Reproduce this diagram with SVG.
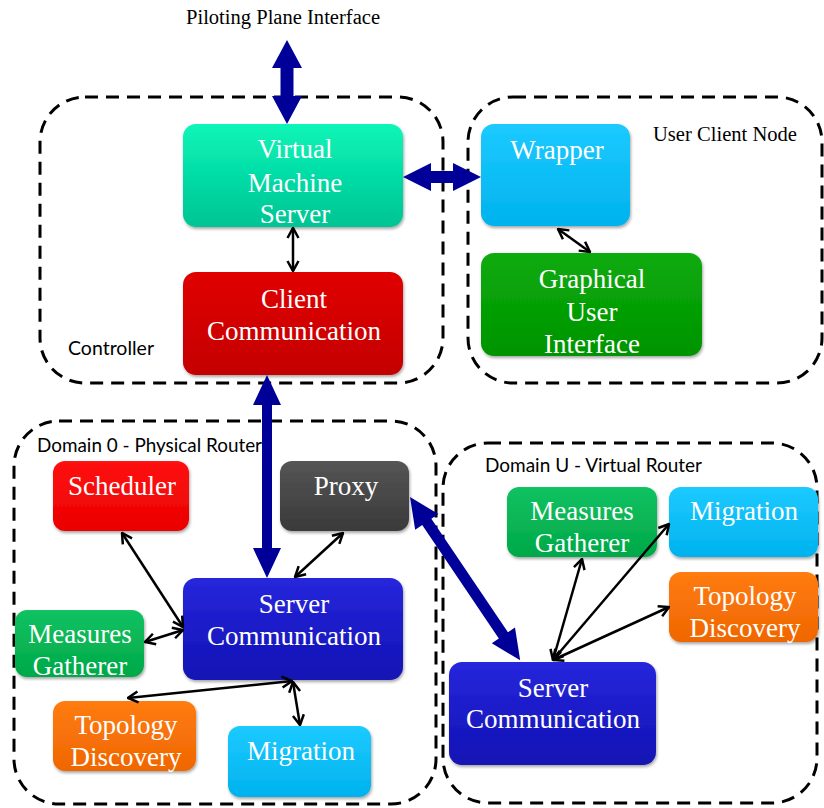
<svg xmlns="http://www.w3.org/2000/svg" width="824" height="808" viewBox="0 0 824 808">
  <defs>
    <style>
      .zone { fill: none; stroke: #000; stroke-width: 3; stroke-dasharray: 13 8; }
      .zlabel { font-family: "Lato", "Liberation Sans", sans-serif; font-size: 19px; fill: #000; }
      .slabel { font-family: "Liberation Serif", "Times New Roman", serif; font-size: 20px; fill: #000; }
      .box { filter: url(#shadow); }
      .nt { font-family: "Liberation Serif", "Times New Roman", serif; font-size: 27px; fill: #fff; text-anchor: middle; }
      .link { fill: none; stroke: #000; stroke-width: 2.5; marker-start: url(#head); marker-end: url(#head); }
      .pipe { fill: #000099; }
    </style>
    <filter id="shadow" x="-10%" y="-10%" width="120%" height="130%">
      <feDropShadow dx="1" dy="2" stdDeviation="1.8" flood-color="#000" flood-opacity="0.35"/>
    </filter>
    <marker id="head" viewBox="-1 -7 13 14" refX="11" refY="0" markerWidth="13" markerHeight="14" markerUnits="userSpaceOnUse" orient="auto-start-reverse">
      <path d="M1,-5.5 L11,0 L1,5.5" fill="none" stroke="#000" stroke-width="2.5" stroke-linejoin="miter"/>
    </marker>
    <linearGradient id="gTeal" x1="0" y1="0" x2="0" y2="1"><stop offset="0" stop-color="#0af5b8"/><stop offset="1" stop-color="#00c493"/></linearGradient>
    <linearGradient id="gDarkRed" x1="0" y1="0" x2="0" y2="1"><stop offset="0" stop-color="#e00606"/><stop offset="1" stop-color="#c40000"/></linearGradient>
    <linearGradient id="gSky" x1="0" y1="0" x2="0" y2="1"><stop offset="0" stop-color="#1ccaff"/><stop offset="1" stop-color="#00b2ee"/></linearGradient>
    <linearGradient id="gGreen" x1="0" y1="0" x2="0" y2="1"><stop offset="0" stop-color="#0cab0c"/><stop offset="1" stop-color="#009400"/></linearGradient>
    <linearGradient id="gRed" x1="0" y1="0" x2="0" y2="1"><stop offset="0" stop-color="#ff1212"/><stop offset="1" stop-color="#ea0000"/></linearGradient>
    <linearGradient id="gGray" x1="0" y1="0" x2="0" y2="1"><stop offset="0" stop-color="#555"/><stop offset="1" stop-color="#3a3a3a"/></linearGradient>
    <linearGradient id="gBlue" x1="0" y1="0" x2="0" y2="1"><stop offset="0" stop-color="#2626dc"/><stop offset="1" stop-color="#1212b4"/></linearGradient>
    <linearGradient id="gMint" x1="0" y1="0" x2="0" y2="1"><stop offset="0" stop-color="#12c262"/><stop offset="1" stop-color="#00a847"/></linearGradient>
    <linearGradient id="gOrange" x1="0" y1="0" x2="0" y2="1"><stop offset="0" stop-color="#ff7c12"/><stop offset="1" stop-color="#ef6600"/></linearGradient>
  </defs>

  <rect width="824" height="808" fill="#fff"/>

  <!-- dashed grouping zones -->
  <g id="zones">
    <rect class="zone" x="40" y="97" width="403" height="286" rx="45"/>
    <rect class="zone" x="468" y="97" width="354" height="286" rx="45"/>
    <rect class="zone" x="14" y="421" width="422" height="383" rx="45"/>
    <rect class="zone" x="443" y="443" width="374" height="360" rx="45"/>
    <text class="slabel" x="283" y="24" text-anchor="middle" textLength="194" lengthAdjust="spacingAndGlyphs">Piloting Plane Interface</text>
    <text class="slabel" x="653" y="141" textLength="144" lengthAdjust="spacingAndGlyphs">User Client Node</text>
    <text class="zlabel" x="68" y="355" textLength="86" lengthAdjust="spacingAndGlyphs">Controller</text>
    <text class="zlabel" x="37" y="452" textLength="225" lengthAdjust="spacingAndGlyphs">Domain 0 - Physical Router</text>
    <text class="zlabel" x="485" y="472" textLength="217" lengthAdjust="spacingAndGlyphs">Domain U - Virtual Router</text>
  </g>

  <!-- controller -->
  <g id="vm-server">
    <rect class="box" x="183" y="124" width="220" height="103" rx="13" fill="url(#gTeal)"/>
    <text class="nt" x="295" y="158">Virtual</text>
    <text class="nt" x="295" y="192">Machine</text>
    <text class="nt" x="295" y="223">Server</text>
  </g>
  <g id="client-communication">
    <rect class="box" x="183" y="272" width="220" height="103" rx="13" fill="url(#gDarkRed)"/>
    <text class="nt" x="294" y="308">Client</text>
    <text class="nt" x="294" y="340">Communication</text>
  </g>

  <!-- user client node -->
  <g id="wrapper">
    <rect class="box" x="481" y="124" width="149" height="102" rx="13" fill="url(#gSky)"/>
    <text class="nt" x="557" y="159">Wrapper</text>
  </g>
  <g id="gui">
    <rect class="box" x="481" y="253" width="221" height="103" rx="13" fill="url(#gGreen)"/>
    <text class="nt" x="592" y="288">Graphical</text>
    <text class="nt" x="592" y="321">User</text>
    <text class="nt" x="592" y="353">Interface</text>
  </g>

  <!-- domain 0 -->
  <g id="d0-scheduler">
    <rect class="box" x="53" y="461" width="136" height="70" rx="12" fill="url(#gRed)"/>
    <text class="nt" x="122" y="495">Scheduler</text>
  </g>
  <g id="d0-proxy">
    <rect class="box" x="280" y="461" width="129" height="70" rx="12" fill="url(#gGray)"/>
    <text class="nt" x="346" y="495">Proxy</text>
  </g>
  <g id="d0-server-communication">
    <rect class="box" x="183" y="578" width="220" height="102" rx="13" fill="url(#gBlue)"/>
    <text class="nt" x="294" y="613">Server</text>
    <text class="nt" x="294" y="645">Communication</text>
  </g>
  <g id="d0-measures">
    <rect class="box" x="15" y="610" width="129" height="67" rx="12" fill="url(#gMint)"/>
    <text class="nt" x="80" y="643">Measures</text>
    <text class="nt" x="80" y="675">Gatherer</text>
  </g>
  <g id="d0-topology">
    <rect class="box" x="53" y="701" width="143" height="70" rx="12" fill="url(#gOrange)"/>
    <text class="nt" x="126" y="734">Topology</text>
    <text class="nt" x="126" y="766">Discovery</text>
  </g>
  <g id="d0-migration">
    <rect class="box" x="228" y="726" width="143" height="71" rx="12" fill="url(#gSky)"/>
    <text class="nt" x="301" y="760">Migration</text>
  </g>

  <!-- domain U -->
  <g id="du-measures">
    <rect class="box" x="507" y="487" width="150" height="70" rx="12" fill="url(#gMint)"/>
    <text class="nt" x="582" y="520">Measures</text>
    <text class="nt" x="582" y="552">Gatherer</text>
  </g>
  <g id="du-migration">
    <rect class="box" x="669" y="487" width="149" height="70" rx="12" fill="url(#gSky)"/>
    <text class="nt" x="744" y="520">Migration</text>
  </g>
  <g id="du-topology">
    <rect class="box" x="669" y="572" width="149" height="70" rx="12" fill="url(#gOrange)"/>
    <text class="nt" x="745" y="605">Topology</text>
    <text class="nt" x="745" y="637">Discovery</text>
  </g>
  <g id="du-server-communication">
    <rect class="box" x="449" y="662" width="207" height="103" rx="13" fill="url(#gBlue)"/>
    <text class="nt" x="553" y="697">Server</text>
    <text class="nt" x="553" y="728">Communication</text>
  </g>

  <!-- connectors -->
  <g id="connectors">
    <!-- thick double-headed channels -->
    <polygon class="pipe" transform="translate(287,40) rotate(90)" points="0,0 28,-15 28,-6.5 56,-6.5 56,-15 84,0 56,15 56,6.5 28,6.5 28,15"/>
    <polygon class="pipe" transform="translate(403,177)" points="0,0 28,-14 28,-6 50,-6 50,-14 78,0 50,14 50,6 28,6 28,14"/>
    <polygon class="pipe" transform="translate(267,375) rotate(90)" points="0,0 30,-14 30,-5 173,-5 173,-14 203,0 173,14 173,5 30,5 30,14"/>
    <polygon class="pipe" transform="translate(410,497) rotate(56)" points="0,0 30,-14 30,-5.5 167,-5.5 167,-14 197,0 167,14 167,5.5 30,5.5 30,14"/>

    <!-- thin double-headed links -->
    <line class="link" x1="293" y1="228" x2="293" y2="271"/>
    <line class="link" x1="558" y1="229" x2="590" y2="252"/>
    <line class="link" x1="122" y1="533" x2="183" y2="627"/>
    <line class="link" x1="343" y1="533" x2="295" y2="577"/>
    <line class="link" x1="145" y1="642" x2="183" y2="630"/>
    <line class="link" x1="128" y1="698" x2="292" y2="681"/>
    <line class="link" x1="300" y1="725" x2="293" y2="682"/>
    <line class="link" x1="553" y1="660" x2="582" y2="559"/>
    <line class="link" x1="553" y1="660" x2="669" y2="524"/>
    <line class="link" x1="553" y1="660" x2="669" y2="607"/>
  </g>
</svg>
